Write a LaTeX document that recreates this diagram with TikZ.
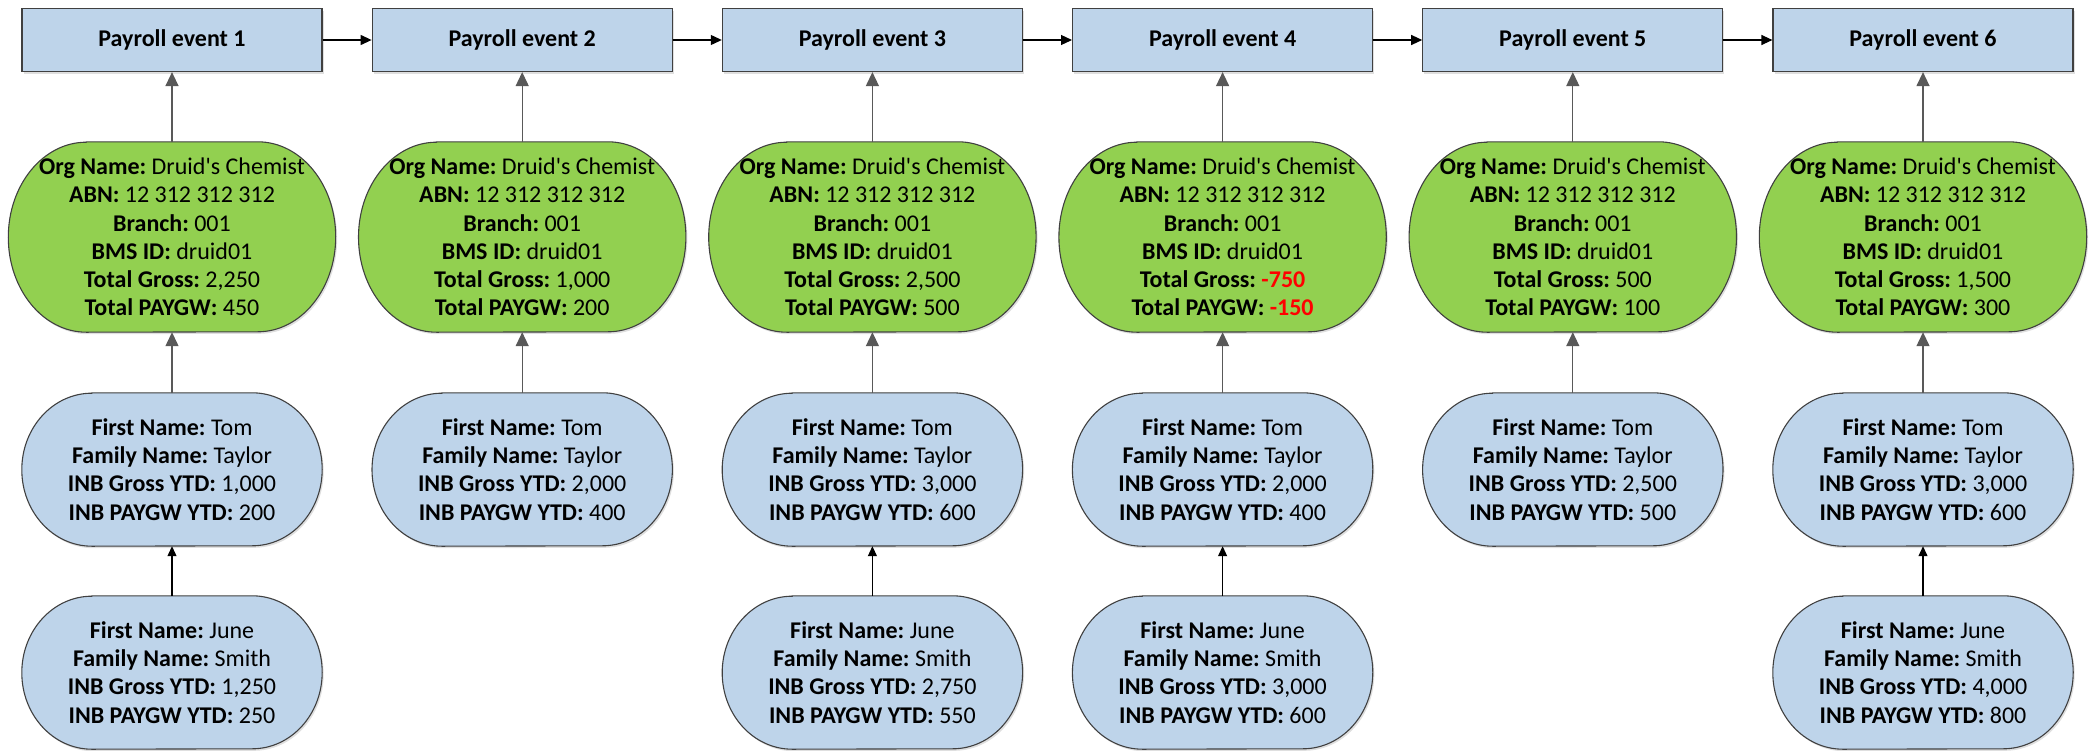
\documentclass[tikz,border=0pt]{standalone}
\usepackage{fontspec}
\setmainfont{Carlito}
\usetikzlibrary{arrows.meta,calc,backgrounds,shadows}

\definecolor{boxblue}{HTML}{BED4EA}
\definecolor{orggreen}{HTML}{92D050}
\definecolor{edgegray}{HTML}{404040}
\definecolor{linkgray}{HTML}{595959}
\definecolor{alertred}{HTML}{FF0000}

\frenchspacing
\newcommand\orglines[2]{\textbf{Org Name:} Druid\textquotesingle s Chemist\\\textbf{ABN:} 12 312 312 312\\\textbf{Branch:} 001\\\textbf{BMS ID:} druid01\\\textbf{Total Gross:} #1\\\textbf{Total PAYGW:} #2}
\newcommand\emplines[4]{\textbf{First Name:} #1\\\textbf{Family Name:} #2\\\textbf{INB Gross YTD:} #3\\\textbf{INB PAYGW YTD:} #4}

% capsule outline drawn round a named node: flat top and bottom, elliptic ends
% #1 node, #2 end x radius, #3 half height, #4 style
\newcommand\capsule[4]{%
  \path[#4] let \p1=(#1.north west), \p2=(#1.south east) in
    (\x1+#2,\y1) -- (\x2-#2,\y1)
    arc[start angle=90,end angle=-90,x radius=#2,y radius=#3]
    -- (\x1+#2,\y2)
    arc[start angle=270,end angle=90,x radius=#2,y radius=#3] -- cycle;}

\tikzset{
  txt/.style={font=\fontsize{24}{28.3}\selectfont},
  softshadow/.style={drop shadow={shadow xshift=1.5pt,shadow yshift=-2pt,opacity=.25}},
  eventbox/.style={font=\fontsize{24}{28.3}\selectfont\bfseries,draw=edgegray,line width=1.2pt,
    fill=boxblue,minimum width=300pt,minimum height=63pt,inner sep=0pt,softshadow},
  orgnode/.style={txt,align=center,inner sep=0pt,minimum width=327pt,minimum height=190pt},
  empnode/.style={txt,align=center,inner sep=0pt,minimum width=300pt,minimum height=153pt},
  orgfill/.style={fill=orggreen,draw=edgegray,line width=1.1pt,softshadow},
  empfill/.style={fill=boxblue,draw=edgegray,line width=1.1pt,softshadow},
  flow/.style={-{Triangle[length=11pt,width=10pt]},line width=1.2pt,draw=black},
  feed/.style={-{Triangle[length=14pt,width=13pt]},line width=1.3pt,draw=linkgray},
  lift/.style={-{Triangle[length=10pt,width=9pt]},line width=1.2pt,draw=black},
}

\begin{document}
\begin{tikzpicture}[x=1pt,y=1pt]
\useasboundingbox (0,0) rectangle (2089,-750);

% payroll events along the top
\node[eventbox] (e1) at (172,-40)    {Payroll event 1};
\node[eventbox] (e2) at (522.2,-40)  {Payroll event 2};
\node[eventbox] (e3) at (872.4,-40)  {Payroll event 3};
\node[eventbox] (e4) at (1222.6,-40) {Payroll event 4};
\node[eventbox] (e5) at (1572.8,-40) {Payroll event 5};
\node[eventbox] (e6) at (1923,-40)   {Payroll event 6};

% organisation totals
\node[orgnode] (o1) at (172,-237)    {\orglines{2,250}{450}};
\node[orgnode] (o2) at (522.2,-237)  {\orglines{1,000}{200}};
\node[orgnode] (o3) at (872.4,-237)  {\orglines{2,500}{500}};
\node[orgnode] (o4) at (1222.6,-237) {\orglines{\textcolor{alertred}{\textbf{-750}}}{\textcolor{alertred}{\textbf{-150}}}};
\node[orgnode] (o5) at (1572.8,-237) {\orglines{500}{100}};
\node[orgnode] (o6) at (1923,-237)   {\orglines{1,500}{300}};

% employee year-to-date records
\node[empnode] (t1) at (172,-469.5)    {\emplines{Tom}{Taylor}{1,000}{200}};
\node[empnode] (t2) at (522.2,-469.5)  {\emplines{Tom}{Taylor}{2,000}{400}};
\node[empnode] (t3) at (872.4,-469.5)  {\emplines{Tom}{Taylor}{3,000}{600}};
\node[empnode] (t4) at (1222.6,-469.5) {\emplines{Tom}{Taylor}{2,000}{400}};
\node[empnode] (t5) at (1572.8,-469.5) {\emplines{Tom}{Taylor}{2,500}{500}};
\node[empnode] (t6) at (1923,-469.5)   {\emplines{Tom}{Taylor}{3,000}{600}};

\node[empnode] (j1) at (172,-672.5)    {\emplines{June}{Smith}{1,250}{250}};
\node[empnode] (j3) at (872.4,-672.5)  {\emplines{June}{Smith}{2,750}{550}};
\node[empnode] (j4) at (1222.6,-672.5) {\emplines{June}{Smith}{3,000}{600}};
\node[empnode] (j6) at (1923,-672.5)   {\emplines{June}{Smith}{4,000}{800}};

\begin{scope}[on background layer]
  \foreach \nd in {o1,o2,o3,o4,o5,o6}{\capsule{\nd}{78pt}{95pt}{orgfill}}
  \foreach \nd in {t1,t2,t3,t4,t5,t6,j1,j3,j4,j6}{\capsule{\nd}{70pt}{76.5pt}{empfill}}
\end{scope}

% event sequence
\foreach \a/\b in {e1/e2,e2/e3,e3/e4,e4/e5,e5/e6}{\draw[flow] (\a.east) -- (\b.west);}

% organisation record feeds its event, employees feed the organisation
\foreach \i in {1,...,6}{
  \draw[feed] (o\i.north) -- (e\i.south);
  \draw[feed] (t\i.north) -- (o\i.south);
}
\foreach \i in {1,3,4,6}{\draw[lift] (j\i.north) -- (t\i.south);}
\end{tikzpicture}
\end{document}
